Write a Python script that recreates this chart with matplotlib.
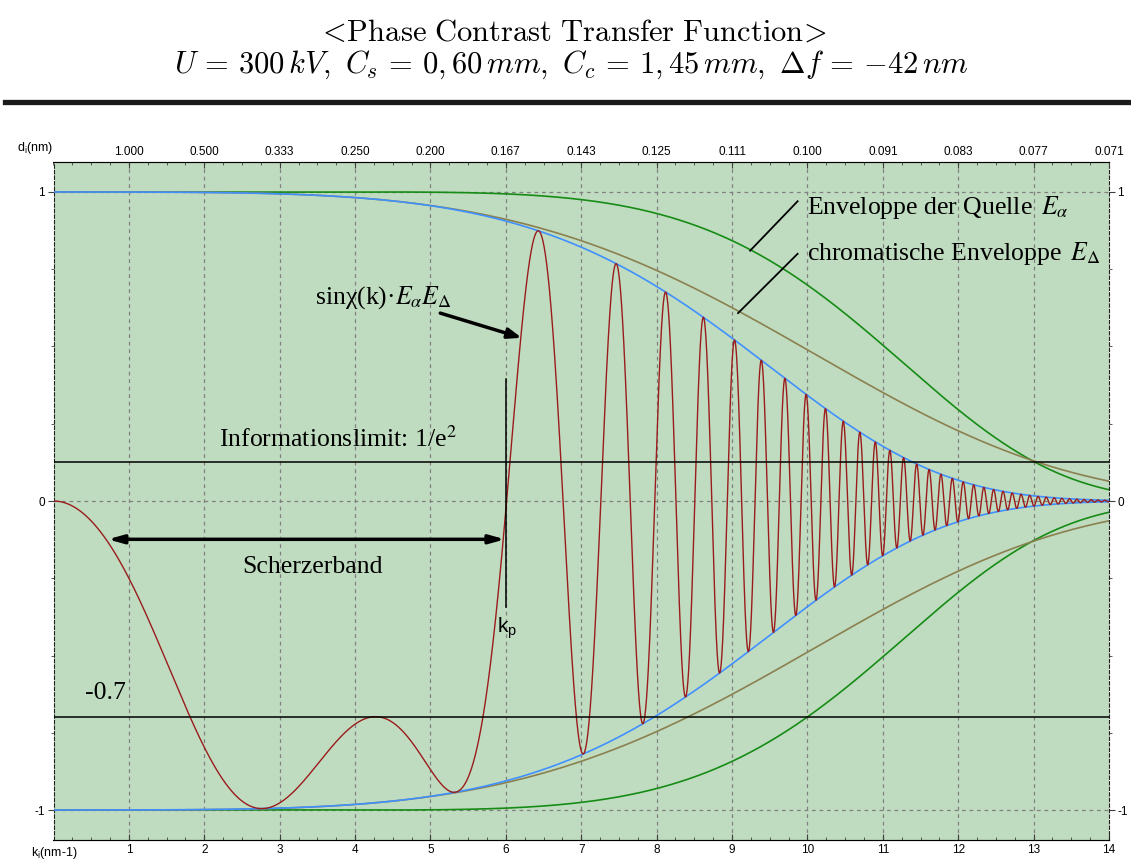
import numpy as np
import matplotlib
matplotlib.use('Agg')
import matplotlib.pyplot as plt
from matplotlib.lines import Line2D
from matplotlib.ticker import MultipleLocator

# microscope parameters (from the chart title) and coherence values
U_kV = 300.0
Cs_mm = 0.60
Cc_mm = 1.45
defocus_nm = -42.0
alpha_mrad = 0.10
dE_eV = 0.4

k_ticks = [1, 2, 3, 4, 5, 6, 7, 8, 9, 10, 11, 12, 13, 14]
d_labels = ['1.000', '0.500', '0.333', '0.250', '0.200', '0.167', '0.143',
            '0.125', '0.111', '0.100', '0.091', '0.083', '0.077', '0.071']
y_ticks = [-1, 0, 1]

info_limit = 0.125
scherzer_level = -0.7
kp = 6.0

# electron wavelength (nm)
h = 6.62607e-34
m0 = 9.10938e-31
e = 1.602177e-19
c = 2.997925e8
U = U_kV * 1e3
lam = h / np.sqrt(2 * m0 * e * U * (1 + e * U / (2 * m0 * c**2))) * 1e9

Cs = Cs_mm * 1e6
Cc = Cc_mm * 1e6
alpha = alpha_mrad * 1e-3
delta = Cc * dE_eV / U

k = np.linspace(0, 14, 20000)
chi = np.pi * lam * defocus_nm * k**2 + 0.5 * np.pi * Cs * lam**3 * k**4
E_a = np.exp(-(np.pi * alpha / lam)**2 * (Cs * lam**3 * k**3 + defocus_nm * lam * k)**2)
E_d = np.exp(-0.5 * np.pi**2 * lam**2 * delta**2 * k**4)
E_tot = E_a * E_d
ctf = np.sin(chi) * E_tot

serif = 'Liberation Serif'
sans = 'Liberation Sans'
fs_ann = 18.5

fig = plt.figure(figsize=(11.31, 8.63), dpi=100)

fig.text(0.506, 1 - 32 / 863,
         r'$<\!\mathrm{Phase\ Contrast\ Transfer\ Function}\!>$',
         ha='center', va='center', fontsize=22, math_fontfamily='cm')
fig.text(0.505, 1 - 65 / 863,
         r'$U\,=\,300\,kV,\ C_s\,=\,0,60\,mm,\ C_c\,=\,1,45\,mm,\ \Delta f\,=\,{-}42\,nm$',
         ha='center', va='center', fontsize=22, math_fontfamily='cm')
fig.add_artist(Line2D([5 / 1131, 1.0], [1 - 102.5 / 863] * 2, lw=3.8, color='#1a1a1a'))

ax = fig.add_axes([53.5 / 1131, 1 - 840 / 863, (1109 - 53.5) / 1131, (840 - 162) / 863])
ax.set_facecolor('#c0dcc0')
ax.set_xlim(0, 14)
ax.set_ylim(-1.097, 1.097)

for kv in k_ticks[:-1]:
    ax.axvline(kv, color='#808080', lw=0.9, ls=(0, (3, 3)), zorder=1)
for yv in y_ticks:
    ax.axhline(yv, color='#808080', lw=0.9, ls=(0, (3, 3)), zorder=1)

ax.plot(k, E_a, color='#168c16', lw=1.2, zorder=2)
ax.plot(k, -E_a, color='#168c16', lw=1.2, zorder=2)
ax.plot(k, E_d, color='#8a8050', lw=1.2, zorder=2)
ax.plot(k, -E_d, color='#8a8050', lw=1.2, zorder=2)
ax.plot(k, E_tot, color='#4090ff', lw=1.2, zorder=3)
ax.plot(k, -E_tot, color='#4090ff', lw=1.2, zorder=3)
ax.plot(k, ctf, color='#9a1c1c', lw=1.0, zorder=4)

ax.axhline(info_limit, color='black', lw=1.1, zorder=5)
ax.axhline(scherzer_level, color='black', lw=1.1, zorder=5)
ax.plot([kp, kp], [0.395, -0.343], color='black', lw=1.1, zorder=5)

# axes styling
for side in ['left', 'right']:
    ax.spines[side].set_linestyle((0, (3, 2)))
    ax.spines[side].set_color('#202020')
for side in ['top', 'bottom']:
    ax.spines[side].set_color('#404040')

ax.set_xticks(k_ticks)
ax.set_xticklabels([str(v) for v in k_ticks], fontsize=8.5, family=sans)
ax.xaxis.set_minor_locator(MultipleLocator(0.25))
ax.tick_params(axis='x', which='major', direction='in', length=4, pad=3, color='#404040')
ax.tick_params(axis='x', which='minor', direction='in', length=2.5, color='#404040')
ax.set_yticks(y_ticks)
ax.set_yticklabels([str(v) for v in y_ticks], fontsize=8.5, family=sans)
ax.yaxis.set_minor_locator(MultipleLocator(0.25))
ax.tick_params(axis='y', which='both', left=True, right=True, labelleft=True,
               labelright=True, direction='out', color='#404040')
ax.tick_params(axis='y', which='major', length=4, pad=2)
ax.tick_params(axis='y', which='minor', length=2.5)

top = ax.twiny()
top.set_xlim(ax.get_xlim())
top.set_xticks(k_ticks)
top.set_xticklabels(d_labels, fontsize=8.5, family=sans)
top.xaxis.set_minor_locator(MultipleLocator(0.25))
top.tick_params(axis='x', which='major', direction='in', length=4, pad=3, color='#404040')
top.tick_params(axis='x', which='minor', direction='in', length=2.5, color='#404040')
for side in ['left', 'right']:
    top.spines[side].set_visible(False)

ax.text(-0.0005, 1.0 + 14 / 678, r'd$_\mathregular{i}$(nm)', transform=ax.transAxes,
        ha='right', va='center', fontsize=9, family=sans)
ax.text(0.023, -13 / 678, r'k$_\mathregular{i}$(nm-1)', transform=ax.transAxes,
        ha='right', va='center', fontsize=9, family=sans)

# annotations
ax.text(10.0, 0.95, r'Enveloppe der Quelle $\,E_\alpha$', fontsize=fs_ann, family=serif,
        math_fontfamily='stix', va='center', zorder=6)
ax.plot([9.24, 9.87], [0.81, 0.97], color='black', lw=1.3, zorder=6)
ax.text(10.0, 0.80, r'chromatische Enveloppe $\,E_\Delta$', fontsize=fs_ann, family=serif,
        math_fontfamily='stix', va='center', zorder=6)
ax.plot([9.08, 9.87], [0.608, 0.80], color='black', lw=1.3, zorder=6)

ax.text(3.47, 0.657, r'sinχ(k)·$E_\alpha E_\Delta$', fontsize=fs_ann, family=serif,
        math_fontfamily='stix', va='center', zorder=6)
ax.annotate('', xy=(6.21, 0.528), xytext=(5.13, 0.608),
            arrowprops=dict(arrowstyle='-|>,head_length=0.8,head_width=0.3',
                            color='black', lw=2.5, shrinkA=0, shrinkB=0), zorder=6)

ax.text(2.2, 0.20, r'Informationslimit: 1/e$^2$', fontsize=fs_ann, family=serif,
        math_fontfamily='stix', va='center', zorder=6)
ax.text(0.42, -0.62, '-0.7', fontsize=fs_ann, family=serif, va='center', zorder=6)

ax.annotate('', xy=(0.72, -0.124), xytext=(5.99, -0.124),
            arrowprops=dict(arrowstyle='<|-|>,head_length=0.9,head_width=0.25',
                            color='black', lw=2.5, shrinkA=0, shrinkB=0), zorder=6)
ax.text(3.43, -0.213, 'Scherzerband', fontsize=fs_ann, family=serif,
        ha='center', va='center', zorder=6)
ax.text(5.88, -0.41, r'k$_\mathregular{p}$', fontsize=15, family=sans, va='center', zorder=6)

fig.savefig('out.png', dpi=100)
